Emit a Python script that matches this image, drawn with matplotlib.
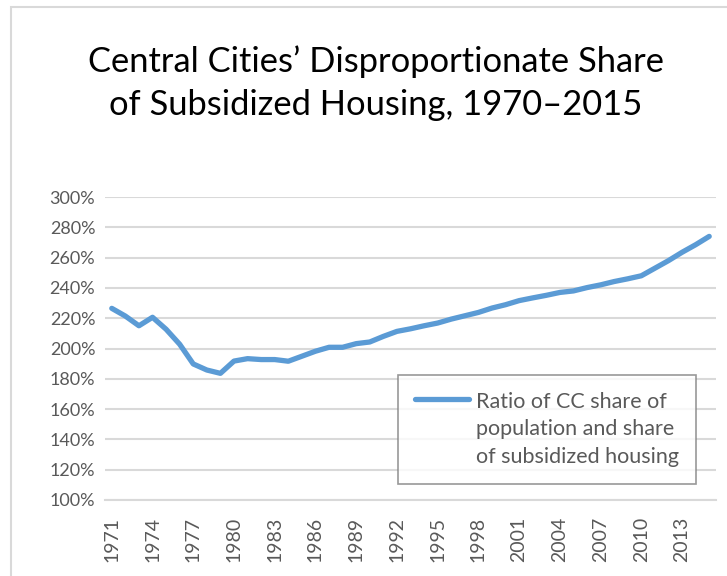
import matplotlib
matplotlib.use("Agg")
import numpy as np
import matplotlib.pyplot as plt
from matplotlib.patches import Rectangle
from matplotlib.lines import Line2D
from matplotlib.legend_handler import HandlerLine2D
from matplotlib.ticker import FuncFormatter

years = list(range(1971, 2016))
ratio = [226.5, 221.4, 215.0, 220.6, 212.7, 202.8, 189.8, 185.8, 183.6, 191.7,
         193.3, 192.7, 192.7, 191.6, 194.9, 198.2, 200.8, 200.8, 203.2, 204.3,
         208.0, 211.3, 213.0, 215.0, 216.8, 219.4, 221.6, 223.8, 226.7, 228.9,
         231.6, 233.4, 235.1, 237.0, 238.0, 240.2, 242.0, 244.2, 246.0, 248.0,
         253.0, 258.0, 263.5, 268.5, 274.0]
tick_years = list(range(1971, 2016, 3))
title = "Central Cities\u2019 Disproportionate Share\nof Subsidized Housing, 1970\u20132015"
series_label = "Ratio of CC share of\npopulation and share\nof subsidized housing"

plt.rcParams['font.family'] = ['Lato', 'DejaVu Sans']

LEG_FS = 15.5
LEG_LS = 1.45


class TopLineHandler(HandlerLine2D):
    """Place the legend line next to the first text line."""
    def create_artists(self, legend, orig_handle, xdescent, ydescent, width,
                       height, fontsize, trans):
        arts = super().create_artists(legend, orig_handle, xdescent, ydescent,
                                      width, height, fontsize, trans)
        shift = LEG_FS * LEG_LS
        for a in arts:
            if isinstance(a, Line2D):
                a.set_ydata(np.asarray(a.get_ydata(), dtype=float) + shift)
        return arts


W, H = 727, 576
fig = plt.figure(figsize=(W / 100, H / 100), dpi=100)

# chart border (extends past the right and bottom edges)
fig.patches.append(Rectangle((11 / W, -0.1), 1.2, 1.1 - 7 / H, transform=fig.transFigure,
                             fill=False, edgecolor='#D9D9D9', linewidth=1.5))

ax = fig.add_axes([105 / W, 1 - 500 / H, (716 - 105) / W, (500 - 197) / H])
x = list(range(len(years)))
line, = ax.plot(x, ratio, color='#5B9BD5', linewidth=3.8, solid_capstyle='round',
                solid_joinstyle='round', label=series_label)

ax.set_xlim(-0.5, len(years) - 0.5)
ax.set_ylim(100, 300)
ax.set_yticks(range(100, 301, 20))
ax.yaxis.set_major_formatter(FuncFormatter(lambda v, p: f"{int(v)}%"))
ax.set_xticks([years.index(y) for y in tick_years])
ax.set_xticklabels([str(y) for y in tick_years], rotation=90)
ax.grid(axis='y', color='#D9D9D9', linewidth=1.5)
ax.set_axisbelow(True)
for s in ['top', 'right', 'left']:
    ax.spines[s].set_visible(False)
ax.spines['bottom'].set_color('#D9D9D9')
ax.spines['bottom'].set_linewidth(1.5)
ax.tick_params(axis='both', length=0, colors='#595959')
ax.tick_params(axis='y', pad=7, labelsize=13)
ax.tick_params(axis='x', pad=12, labelsize=14)

fig.text(376 / W, 1 - 83 / H, title, ha='center', va='center', fontsize=24.8,
         color='black', linespacing=1.45)

leg = ax.legend(handles=[line], loc='upper left',
                bbox_to_anchor=((398 - 105) / (716 - 105), (500 - 375) / (500 - 197)),
                borderaxespad=0, frameon=True, fancybox=False, fontsize=LEG_FS,
                handlelength=2.5, handletextpad=0.3, borderpad=0.8,
                labelcolor='#595959', handler_map={Line2D: TopLineHandler()})
for t in leg.get_texts():
    t.set_linespacing(LEG_LS)
leg.get_frame().set_edgecolor('#7F7F7F')
leg.get_frame().set_linewidth(1.2)

fig.savefig("out.png", dpi=100)
